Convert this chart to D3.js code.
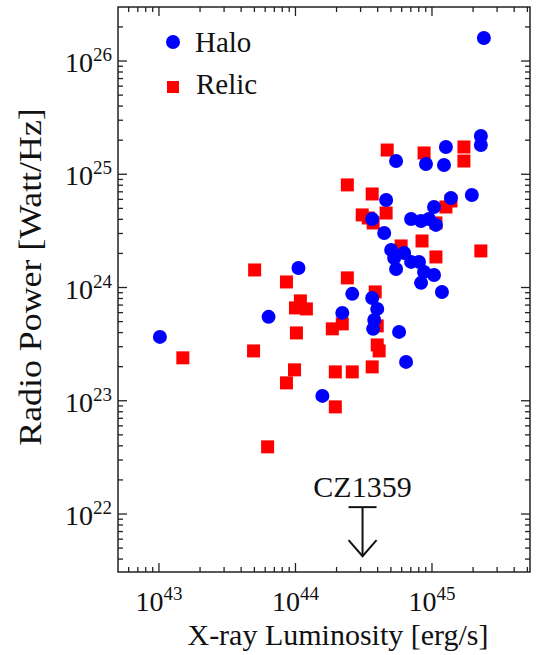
<!DOCTYPE html>
<html><head><meta charset="utf-8">
<script src="https://cdn.jsdelivr.net/npm/d3@7"></script>
<style>body{margin:0;background:#fff}svg{display:block}</style>
</head><body><svg id="c" width="536" height="655"></svg>
<script>
// log10 of X-ray luminosity [erg/s] and radio power [W/Hz]
const haloLogLx = [45.380,45.358,45.358,45.102,44.737,44.956,45.088,45.292,45.139,44.664,45.015,44.847,44.920,44.978,45.029,44.562,44.650,44.701,44.796,44.723,44.847,44.905,44.737,44.942,45.015,44.920,45.073,44.022,44.416,44.562,44.599,44.343,44.577,44.569,43.803,43.007,44.759,44.810,44.197];
const haloLogP  = [26.203,25.338,25.259,25.241,25.117,25.091,25.082,24.817,24.791,24.773,24.711,24.605,24.588,24.605,24.553,24.605,24.482,24.332,24.305,24.261,24.226,24.226,24.164,24.138,24.111,24.041,23.961,24.173,23.944,23.908,23.811,23.776,23.714,23.635,23.741,23.564,23.608,23.343,23.043];
const relicLogLx = [44.672,44.942,45.234,45.234,44.380,44.562,44.664,44.489,44.533,44.569,45.139,45.102,45.029,44.774,44.927,45.029,45.358,44.380,44.584,43.701,43.934,44.036,44.000,44.080,44.343,44.270,44.007,44.599,43.693,43.175,44.599,44.613,43.993,43.934,44.292,44.416,44.562,44.292,43.796];
const relicLogP  = [25.214,25.188,25.241,25.117,24.906,24.826,24.658,24.641,24.614,24.570,24.764,24.711,24.570,24.367,24.411,24.270,24.323,24.085,23.961,24.155,24.049,23.882,23.820,23.811,23.679,23.635,23.599,23.661,23.440,23.379,23.493,23.440,23.273,23.158,23.255,23.255,23.299,22.946,22.593];
const xTickExps = [43,44,45];
const yTickExps = [22,23,24,25,26];
const upperLimit = {name:"CZ1359", lx:3.1e44, p:1.15e22};
const seriesNames = ["Halo","Relic"];

const svg = d3.select("#c");
const L=118,R=530,T=7,B=572;
const x = d3.scaleLog().domain([Math.pow(10,42.70),Math.pow(10,45.718)]).range([L,R]);
const y = d3.scaleLog().domain([Math.pow(10,21.488),Math.pow(10,26.477)]).range([B,T]);
const font = "'Liberation Serif','Times New Roman',serif";
const ink = "#222";

const halo = haloLogLx.map((v,i)=>({lx:Math.pow(10,v),p:Math.pow(10,haloLogP[i])}));
const relic = relicLogLx.map((v,i)=>({lx:Math.pow(10,v),p:Math.pow(10,relicLogP[i])}));

// minor/major ticks (inward, all four sides)
function minors(d){const out=[];const lo=Math.floor(Math.log10(d[0])),hi=Math.ceil(Math.log10(d[1]));
 for(let e=lo;e<=hi;e++)for(let m=1;m<10;m++){const v=m*Math.pow(10,e);if(v>=d[0]&&v<=d[1])out.push({v,major:m===1});}return out;}
const g = svg.append("g");
minors(x.domain()).forEach(t=>{const len=t.major?9:5;const px=x(t.v);
 g.append("line").attr("x1",px).attr("x2",px).attr("y1",B).attr("y2",B-len).attr("stroke",ink).attr("stroke-width",1.3);
 g.append("line").attr("x1",px).attr("x2",px).attr("y1",T).attr("y2",T+len).attr("stroke",ink).attr("stroke-width",1.3);});
minors(y.domain()).forEach(t=>{const len=t.major?9:5;const py=y(t.v);
 g.append("line").attr("y1",py).attr("y2",py).attr("x1",L).attr("x2",L+len).attr("stroke",ink).attr("stroke-width",1.3);
 g.append("line").attr("y1",py).attr("y2",py).attr("x1",R).attr("x2",R-len).attr("stroke",ink).attr("stroke-width",1.3);});
svg.append("rect").attr("x",L).attr("y",T).attr("width",R-L).attr("height",B-T).attr("fill","none").attr("stroke",ink).attr("stroke-width",1.5);

// tick labels
xTickExps.forEach(e=>{const t=svg.append("text").attr("x",x(Math.pow(10,e))).attr("y",611).attr("text-anchor","middle")
 .attr("font-family",font).attr("font-size",28).attr("fill","#111");
 t.append("tspan").text("10");t.append("tspan").attr("dy",-11).attr("font-size",19).text(e);});
yTickExps.forEach(e=>{const t=svg.append("text").attr("x",112).attr("y",y(Math.pow(10,e))+11).attr("text-anchor","end")
 .attr("font-family",font).attr("font-size",28).attr("fill","#111");
 t.append("tspan").text("10");t.append("tspan").attr("dy",-11).attr("font-size",19).text(e);});

// axis labels
svg.append("text").attr("x",338).attr("y",645).attr("text-anchor","middle").attr("font-family",font).attr("font-size",30).attr("fill","#111").text("X-ray Luminosity [erg/s]");
svg.append("text").attr("transform","translate(41,277) rotate(-90) scale(1.12,1)").attr("text-anchor","middle").attr("font-family",font).attr("font-size",32).attr("fill","#111").text("Radio Power [Watt/Hz]");

// points
svg.append("g").selectAll("rect").data(relic).join("rect")
 .attr("x",d=>x(d.lx)-6.5).attr("y",d=>y(d.p)-6.5).attr("width",13).attr("height",13).attr("fill","#ff0000");
svg.append("g").selectAll("circle").data(halo).join("circle")
 .attr("cx",d=>x(d.lx)).attr("cy",d=>y(d.p)).attr("r",7).attr("fill","#0000ff");

// legend
svg.append("circle").attr("cx",173).attr("cy",42).attr("r",7).attr("fill","#0000ff");
svg.append("text").attr("x",195).attr("y",52).attr("font-family",font).attr("font-size",29).attr("fill","#111").text(seriesNames[0]);
svg.append("rect").attr("x",167).attr("y",81).attr("width",12).attr("height",12).attr("fill","#ff0000");
svg.append("text").attr("x",196).attr("y",94).attr("font-family",font).attr("font-size",29).attr("fill","#111").text(seriesNames[1]);

// upper limit
const ux=x(upperLimit.lx), uy=y(upperLimit.p);
svg.append("text").attr("x",ux).attr("y",uy-10).attr("text-anchor","middle").attr("font-family",font).attr("font-size",30).attr("fill","#111").text(upperLimit.name);
const ag=svg.append("g").attr("stroke","#111").attr("stroke-width",2).attr("fill","none");
ag.append("line").attr("x1",ux-14).attr("x2",ux+14).attr("y1",uy).attr("y2",uy);
ag.append("line").attr("x1",ux).attr("x2",ux).attr("y1",uy).attr("y2",uy+49);
ag.append("path").attr("d",`M${ux-14},${uy+33}L${ux},${uy+49}L${ux+14},${uy+33}`);
</script></body></html>
